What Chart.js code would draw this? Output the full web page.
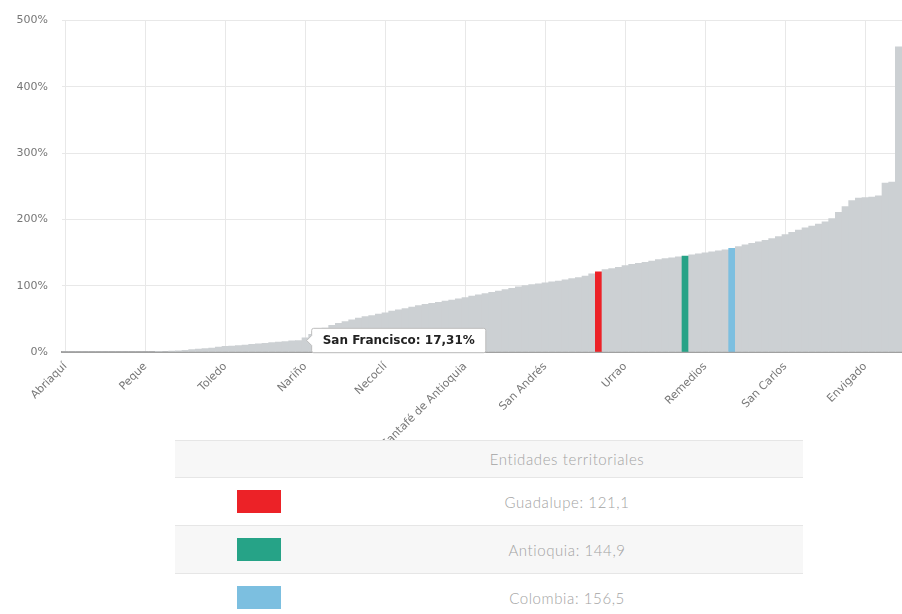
<!DOCTYPE html>
<html>
<head>
<meta charset="utf-8">
<script src="https://cdn.jsdelivr.net/npm/chart.js@4.4.1/dist/chart.umd.min.js"></script>
<style>
  body { margin: 0; width: 902px; height: 614px; overflow: hidden; background: #fff; }
  #wrap { position: absolute; left: 0; top: 0; width: 902px; height: 440px; }
  #legend { position: absolute; left: 175px; top: 440px; width: 628px; border-collapse: collapse;
    font-family: Lato, "Open Sans", sans-serif; font-size: 15px; font-weight: 300; color: #a3a3a3; letter-spacing: 0.6px; }
  #legend th, #legend td { border-top: 1px solid #e6e6e6; text-align: center; font-weight: 300; padding: 0; }
  #legend th { height: 36px; background: #f7f7f7; }
  #legend td { height: 47px; }
  #legend td.swc { text-align: left; }
  #legend tr.alt td { background: #f7f7f7; }
  .sw { display: inline-block; width: 44px; height: 23px; vertical-align: middle; margin-left: 62px; }
</style>
</head>
<body>
<div id="wrap"><canvas id="chart"></canvas></div>
<table id="legend"></table>
<script>
const labels = [
  'Abriaquí', 'Medellín', 'Abejorral', 'Alejandría', 'Amagá', 'Amalfi', 'Andes', 'Angelópolis', 'Angostura', 'Anorí', 'Anzá', 'Apartadó',
  'Peque', 'Arboletes', 'Argelia', 'Armenia', 'Barbosa', 'Bello', 'Belmira', 'Betania', 'Betulia', 'Briceño', 'Buriticá', 'Cáceres',
  'Toledo', 'Caicedo', 'Caldas', 'Campamento', 'Cañasgordas', 'Caracolí', 'Caramanta', 'Carepa', 'Carolina del Príncipe', 'Caucasia', 'Chigorodó', 'San Francisco',
  'Nariño', 'Cisneros', 'Ciudad Bolívar', 'Cocorná', 'Concepción', 'Concordia', 'Copacabana', 'Dabeiba', 'Donmatías', 'Ebéjico', 'El Bagre', 'El Carmen de Viboral',
  'Necoclí', 'El Peñol', 'El Retiro', 'El Santuario', 'Entrerríos', 'Fredonia', 'Frontino', 'Giraldo', 'Girardota', 'Gómez Plata', 'Granada', 'Guarne',
  'Santafé de Antioquia', 'Guatapé', 'Heliconia', 'Hispania', 'Itagüí', 'Ituango', 'Jardín', 'Jericó', 'La Ceja', 'La Estrella', 'La Pintada', 'La Unión',
  'San Andrés', 'Liborina', 'Maceo', 'Marinilla', 'Montebello', 'Mutatá', 'Nechí', 'Olaya', 'Guadalupe', 'Pueblorrico', 'Puerto Berrío', 'Puerto Nare',
  'Urrao', 'Puerto Triunfo', 'Rionegro', 'Sabanalarga', 'Sabaneta', 'Salgar', 'San Jerónimo', 'San José de la Montaña', 'San Juan de Urabá', 'Antioquia', 'San Luis', 'San Pedro de los Milagros',
  'Remedios', 'San Pedro de Urabá', 'San Rafael', 'San Roque', 'Colombia', 'San Vicente', 'Santa Bárbara', 'Santa Rosa de Osos', 'Santo Domingo', 'Segovia', 'Sonsón', 'Sopetrán',
  'San Carlos', 'Támesis', 'Tarazá', 'Tarso', 'Titiribí', 'Turbo', 'Uramita', 'Valdivia', 'Valparaíso', 'Vegachí', 'Venecia', 'Vigía del Fuerte',
  'Envigado', 'Yalí', 'Yarumal', 'Yolombó', 'Yondó', 'Zaragoza'
];

// valores en %
const values = [
  0, 0, 0, 0, 0, 0, 0, 0, 0, 0, 0, 0,
  0, 0, 0.3, 0.7, 1.2, 1.9, 2.7, 3.5, 4.3, 5.2, 6.1, 7.3,
  8.4, 9.1, 9.8, 10.6, 11.5, 12.4, 13.2, 14.1, 15.0, 15.9, 16.8, 17.31,
  21.5, 26.8, 31.9, 36.2, 40.1, 43.4, 46.0, 48.7, 51.2, 53.4, 55.1, 57.3,
  59.2, 61.8, 63.5, 65.4, 67.9, 70.2, 72.1, 73.6, 75.0, 76.8, 78.4, 80.1,
  82.0, 84.2, 86.1, 88.0, 90.2, 92.1, 94.3, 96.0, 98.2, 100.1, 101.6, 103.0,
  104.4, 105.7, 107.1, 108.9, 110.6, 112.3, 114.5, 117.8, 121.1, 124.4, 126.0, 127.9,
  130.2, 132.1, 133.8, 135.2, 137.0, 139.4, 140.8, 142.1, 143.6, 144.9, 146.7, 148.0,
  149.6, 151.2, 152.8, 154.3, 156.5, 159.0, 161.7, 163.9, 166.2, 168.4, 171.0, 174.1,
  177.3, 180.6, 184.0, 187.2, 190.1, 193.0, 196.4, 201.2, 210.8, 219.5, 228.3, 232.4,
  233.1, 233.9, 235.6, 254.8, 256.2, 460.3
];

const yTicks = [0, 100, 200, 300, 400, 500];

const highlightNames = ['Guadalupe', 'Antioquia', 'Colombia'];
const highlightColors = ['#ec2227', '#26a387', '#7cbfe0'];
const barGray = '#ccd0d3';
const tooltipName = 'San Francisco';
const legendTitle = 'Entidades territoriales';

const barColors = labels.map(name => {
  const k = highlightNames.indexOf(name);
  return k >= 0 ? highlightColors[k] : barGray;
});

function fmt(v) {
  return String(v).replace('.', ',');
}

const tickFont = { family: 'DejaVu Sans', size: 11 };

const chart = new Chart(document.getElementById('chart'), {
  type: 'bar',
  data: {
    labels: labels,
    datasets: [{
      data: values,
      backgroundColor: barColors,
      hoverBackgroundColor: barColors,
      borderWidth: 0,
      barPercentage: 1,
      categoryPercentage: 1
    }]
  },
  options: {
    responsive: true,
    maintainAspectRatio: false,
    animation: false,
    layout: { padding: { top: 15 } },
    plugins: {
      legend: { display: false },
      tooltip: {
        backgroundColor: '#fff',
        borderColor: '#bdbdbd',
        borderWidth: 1,
        bodyColor: '#222',
        bodyFont: { family: 'DejaVu Sans', size: 12, weight: 'bold' },
        padding: { x: 11, y: 5 },
        displayColors: false,
        cornerRadius: 2,
        caretSize: 5,
        caretPadding: 8,
        xAlign: 'left',
        yAlign: 'center',
        callbacks: {
          title: () => '',
          label: c => c.label + ': ' + fmt(c.parsed.y) + '%'
        }
      }
    },
    scales: {
      x: {
        grid: { color: '#e8e8e8', drawTicks: false, offset: false },
        border: { color: '#a0a0a0', width: 2 },
        ticks: {
          autoSkip: true,
          maxTicksLimit: 11,
          minRotation: 45,
          maxRotation: 45,
          padding: 8,
          color: '#777',
          font: tickFont
        },
        afterFit: s => { s.height = 88; s.paddingLeft = 0; s.paddingRight = 0; }
      },
      y: {
        min: 0,
        max: 500,
        afterBuildTicks: s => { s.ticks = yTicks.map(v => ({ value: v })); },
        grid: { color: '#e8e8e8', drawTicks: false },
        border: { display: false },
        ticks: {
          padding: 14,
          color: '#777',
          font: tickFont,
          callback: v => v + '%'
        },
        afterFit: s => { s.width = 62; }
      }
    }
  }
});

// tooltip fijo como en la captura
const sfIndex = labels.indexOf(tooltipName);
chart.tooltip.setActiveElements([{ datasetIndex: 0, index: sfIndex }], { x: 0, y: 0 });
chart.update();

// tabla de leyenda
const table = document.getElementById('legend');
let html = '<tr><th style="width:156px"></th><th>' + legendTitle + '</th></tr>';
highlightNames.forEach((name, k) => {
  const v = values[labels.indexOf(name)];
  html += '<tr' + (k % 2 === 1 ? ' class="alt"' : '') + '><td class="swc"><span class="sw" style="background:' +
    highlightColors[k] + '"></span></td><td>' + name + ': ' + fmt(v) + '</td></tr>';
});
table.innerHTML = html;
</script>
</body>
</html>
